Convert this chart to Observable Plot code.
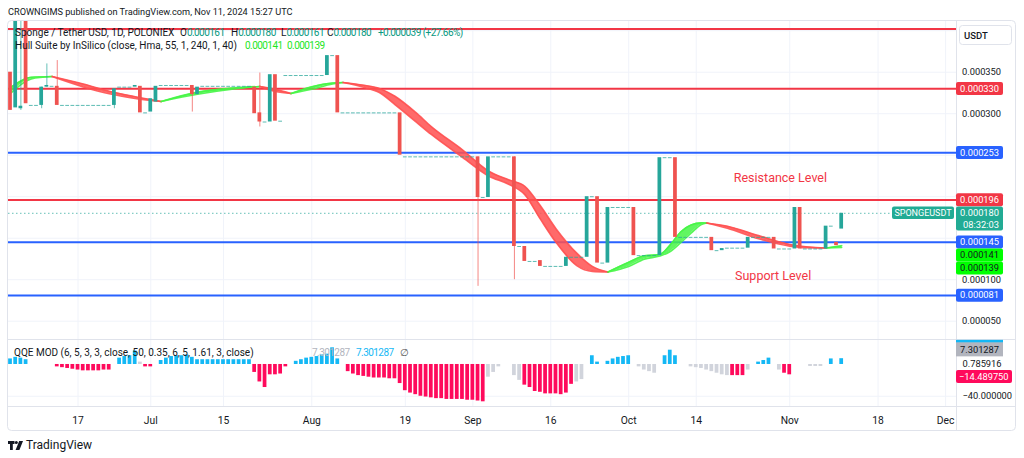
<!DOCTYPE html>
<html>
<head>
<meta charset="utf-8">
<script src="https://cdn.jsdelivr.net/npm/d3@7"></script>
<script src="https://cdn.jsdelivr.net/npm/@observablehq/plot@0.6"></script>
<style>
  html,body{margin:0;padding:0;background:#fff;}
  #wrap{position:relative;width:1024px;height:458px;overflow:hidden;font-family:Roboto,"Noto Sans",sans-serif;color:#131722;}
  #wrap > svg{position:absolute;left:0;}
  .t{position:absolute;white-space:nowrap;font-size:10px;line-height:12px;}
  .num{letter-spacing:-0.55px;}
</style>
</head>
<body>
<div id="wrap"></div>
<script>
// ================= DATA =================
const startDay = "2024-06-04";           // day index 0
// daily open / close (units of 1e-6 USDT), day 0 .. 160
const openE6 = [
 350,307,306,415,310,310,310,332,333,333,
 310,310,310,310,310,310,310,310,310,310,
 310,332,332,332,332,333,301,302,314,334,
 334,334,334,334,334,334,323,333,333,333,
 333,333,333,333,333,333,333,332,301,290,
 290,347,291,346,346,346,346,346,346,346,
 346,346,370,370,301,301,301,301,301,301,
 301,301,301,301,301,301,248,248,248,248,
 248,248,248,248,248,248,248,248,248,248,
 248,199,199,248,248,248,248,248,140,140,
 122,122,123,116,116,116,116,116,127,127,
 127,127,200,200,120,120,187,187,187,187,
 187,129,129,129,129,129,247,247,247,151,
 151,151,151,151,151,151,135,135,138,138,
 138,138,138,151,151,151,151,151,137,137,
 137,137,187,137,137,137,137,137,164.5,145,
 161];
const closeE6 = [
 304,415,309,312,310,310,332,334,333,310,
 310,310,310,310,310,310,310,310,310,310,
 330,332,332,332,334,301,301,318,333,334,
 334,334,334,334,334,323,332,333,333,333,
 333,333,333,333,333,333,333,300,290,290,
 347,291,291,346,346,346,346,346,346,346,
 346,370,370,301,301,301,301,301,301,301,
 301,301,301,301,301,250,248,248,248,248,
 248,248,248,248,248,248,248,248,248,248,
 199,199,248,248,248,248,248,140,140,122,
 122,122,116,116,116,116,116,127,127,127,
 127,200,200,120,120,187,187,187,187,187,
 129,129,129,129,129,247,247,247,151,151,
 151,151,151,151,151,135,135,137.5,138,138,
 138,138,151,151,151,151,151,137,137,137,
 137,187,137,137,137,137,137,164.5,164.5,141,
 180];
// candles with visible wicks
const wickDay    = [2,   6,   7,   9,   20,  35,  48,  90,  97];
const wickHighE6 = [415, 332, 360, 364, 330, 334, 349, 248, 248];
const wickLowE6  = [304, 306, 332, 310, 306, 302, 284, 92,  100];

// Hull Suite (MHULL / SHULL) sampled by day
const hullDay = [0,4,8,14,19,24,29,36,43,48,51,54,58,62,64,68,71,74,78,81,87,92,96,99,102,105,109,112,115,119,122,125,127,129,131,133,134,138,144,150,155,157,160];
const hullM   = [331.5,344,344.8,332.3,324,318.5,314.7,326,331,332.8,326.7,324.3,332.6,337,337.6,331.8,325.5,311,290.5,275,247.5,225,214.5,202.5,173,145,117,110,109.3,121,128.8,130.5,142,157.5,166,168.5,168.4,162,149.3,140.5,138.2,138.2,141];
const hullS   = [324.5,342,344.8,335.7,327,320.5,314.7,323.4,329.8,332.8,329.3,324.3,329.4,335.8,337.6,334.2,330.5,321,301.5,284.5,256.5,231,220,212.5,189,161.5,132,116,109.3,116,124.8,128.5,134,144.5,156,166.5,168.4,164.4,153.1,142.5,138.8,138.2,139];

// QQE MOD histogram per day (0..160) and colour class (c cyan, m magenta, g gray, . none)
const qqeValue = [
 7,9,8,6,0,0,0,0,0,-3,
 -4,-5,-6,-7,-8,-8,-8,-8,-7,-7,
 0,8,10,11,17,3,-3,-3,0,5,
 8,10,11,11,12,9,6,6,6,6,
 6,6,6,6,6,6,6,-10,-22,-29,
 -13,-13,-12,-3,0,4,6,8,9,10,
 12,13,21,7,0,-9,-12,-14,-15,-16,
 -17,-17,-17,-18,-18,-24,-33,-36,-38,-40,
 -41,-42,-43,-43,-44,-44,-44,-44,-45,-45,
 -46,-47,-16,-10,-3,0,0,-14,-20,-26,
 -29,-34,-35,-37,-37,-37,-38,-36,-25,-22,
 -19,0,11,3,0,4,7,9,10,11,
 0,-3,-7,-9,-11,0,11,18,11,0,
 0,-3,-4,-5,-7,-9,-11,-13,-14,-14,
 -14,-14,-7,0,3,5,8,0,-7,-11,
 -13,0,0,0,-2.5,-2.5,-2.5,0,7,0,
 7.301287];
const qqeClass = (
 "cccc.....m" + "mmmmmmmmmm" + ".ccccgmm.c" + "cccccccccc" + "cccccccmmm" +
 "mmmm.ccccc" + "cccc.mmmmm" + "mmmmmmmmmm" + "mmmmmmmmmm" + "mmggg..ggm" +
 "mmmmmmmmmg" + "g.cc.ccccc" + ".gggg.ccc." + ".ggggggggm" + "mmg.ccc.gm" +
 "m...ggg.c." + "c").split("");

// horizontal levels
const levelValues = [0.000402, 0.000330, 0.000253, 0.000196, 0.000145, 0.000081];
const levelKinds  = ["r", "r", "b", "r", "b", "b"];
const lastPrice = 0.000180;

// axes
const tickDates  = ["2024-06-17","2024-07-01","2024-07-15","2024-08-01","2024-08-19","2024-09-01","2024-09-16","2024-10-01","2024-10-14","2024-11-01","2024-11-18","2024-12-01"];
const tickLabels = ["17","Jul","15","Aug","19","Sep","16","Oct","14","Nov","18","Dec"];
const priceTicks = [0.00005,0.0001,0.00015,0.0002,0.00025,0.0003,0.00035,0.0004];

// annotations
const noteText  = ["Resistance Level", "Support Level"];
const noteDay   = [148.2, 146.8];
const notePrice = [0.000222, 0.000105];

// QQE right-axis values
const qqeHist = 7.301287, qqeLine = 0.785916, qqeLow = -14.489750, qqeAxis = -40;

// ================= BUILD =================
const FONT = 'Roboto, "Noto Sans", sans-serif';
const DAY = 864e5;
const T0 = new Date(startDay + "T00:00:00Z").getTime();
const dateOf = d => new Date(T0 + d * DAY);
const E6 = 1e-6;
const UP = "#26a69a", DOWN = "#ef5350";
const RED = "#f23645", BLUE = "#2962ff";
const HULL_UP = "#45f545", HULL_DN = "#ff5050";
const QCOL = {c: "#14b8f5", m: "#ff0a5c", g: "#d1d4dc"};
const HALF = 0.36;
const W = 1024, PLOT_RIGHT = 956, ML = 8, MR = W - PLOT_RIGHT;
const xDomain = [dateOf(-0.385), dateOf(182.1)];

const bodies = [], flats = [];
openE6.forEach((o, i) => {
  const c = closeE6[i];
  const r = {x1: dateOf(i - HALF), x2: dateOf(i + HALF)};
  if (o === c) flats.push({...r, y: o * E6});
  else bodies.push({...r, y1: Math.min(o, c) * E6, y2: Math.max(o, c) * E6, color: c > o ? UP : DOWN});
});
const wicks = wickDay.map((d, i) => ({x: dateOf(d), y1: wickLowE6[i] * E6, y2: wickHighE6[i] * E6,
  color: closeE6[d] >= openE6[d] ? UP : DOWN}));

// hull segments split at turning points
const segs = [];
let cur = null;
hullDay.forEach((d, i) => {
  const diff = hullM[i] - hullS[i];
  const col = diff > 0 ? HULL_UP : diff < 0 ? HULL_DN : null;
  const pt = {date: dateOf(d), m: hullM[i] * E6, s: hullS[i] * E6};
  if (!cur) { cur = {pts: [pt], col}; segs.push(cur); }
  else { cur.pts.push(pt); if (col && !cur.col) cur.col = col; }
  if (col === null && i > 0) { cur = {pts: [pt], col: null}; segs.push(cur); }
});
const hullRows = [];
segs.forEach((s, k) => { if (s.pts.length > 1) s.pts.forEach(p => hullRows.push({...p, seg: k, color: s.col || HULL_UP})); });

const levels = levelValues.map((v, i) => ({v, color: levelKinds[i] === "r" ? RED : BLUE}));
const ticks = tickDates.map((d, i) => ({date: new Date(d + "T00:00:00Z"), label: tickLabels[i]}));
const notes = noteText.map((t, i) => ({t, date: dateOf(noteDay[i]), p: notePrice[i]}));
const qqeRows = [];
qqeValue.forEach((v, i) => { if (qqeClass[i] !== "." && v !== 0) qqeRows.push({x1: dateOf(i - HALF), x2: dateOf(i + HALF), v, color: QCOL[qqeClass[i]]}); });

const wrap = document.getElementById("wrap");

const main = Plot.plot({
  width: W, height: 339, marginLeft: ML, marginRight: MR, marginTop: 21, marginBottom: 0,
  x: {type: "utc", domain: xDomain, axis: null},
  y: {domain: [27.95e-6, 411.1e-6], axis: null},
  color: {type: "identity"},
  style: {background: "transparent", fontFamily: FONT, overflow: "visible"},
  marks: [
    Plot.ruleX(ticks, {x: "date", stroke: "#f0f3fa"}),
    Plot.ruleY(priceTicks, {y: d => d, stroke: "#f0f3fa"}),
    Plot.ruleY(levels, {y: "v", stroke: "color", strokeWidth: 2}),
    Plot.ruleY([lastPrice], {stroke: UP, strokeWidth: 1, strokeDasharray: "1.5,2.5", strokeOpacity: 0.7}),
    Plot.area(hullRows, {x1: "date", y1: "m", y2: "s", z: "seg", fill: "color", fillOpacity: 0.85, curve: "monotone-x", clip: true}),
    Plot.line(hullRows, {x: "date", y: "m", z: "seg", stroke: "color", strokeWidth: 1.6, strokeOpacity: 0.9, curve: "monotone-x", clip: true}),
    Plot.line(hullRows, {x: "date", y: "s", z: "seg", stroke: "color", strokeWidth: 1.6, strokeOpacity: 0.9, curve: "monotone-x", clip: true}),
    Plot.ruleY(flats, {y: "y", x1: "x1", x2: "x2", stroke: UP, strokeOpacity: 0.75}),
    Plot.ruleX(wicks, {x: "x", y1: "y1", y2: "y2", stroke: "color", strokeOpacity: 0.7, clip: true}),
    Plot.rect(bodies, {x1: "x1", x2: "x2", y1: "y1", y2: "y2", fill: "color", clip: true}),
    Plot.text(notes, {x: "date", y: "p", text: "t", fill: RED, fontSize: 12.5})
  ]
});
main.style.top = "0px";
wrap.appendChild(main);

const qqe = Plot.plot({
  width: W, height: 93, marginLeft: ML, marginRight: MR, marginTop: 1, marginBottom: 26,
  x: {type: "utc", domain: xDomain, axis: null},
  y: {domain: [-52.9, 30.2], axis: null},
  color: {type: "identity"},
  style: {background: "transparent", fontFamily: FONT, overflow: "visible"},
  marks: [
    Plot.ruleX(ticks, {x: "date", stroke: "#f0f3fa"}),
    Plot.ruleY([qqeAxis], {stroke: "#f0f3fa"}),
    Plot.rect(qqeRows, {x1: "x1", x2: "x2", y1: 0, y2: "v", fill: "color"}),
    Plot.text([qqeLine, qqeAxis], {y: d => d, text: d => (d < 0 ? "\u2212" + (-d).toFixed(6) : d.toFixed(6)), frameAnchor: "right", textAnchor: "start", dx: 6, fontSize: 9.3, fill: "#131722"}),
    Plot.text(ticks, {x: "date", text: "label", frameAnchor: "bottom", dy: 17, fontSize: 10.3, fill: "#131722"})
  ]
});
qqe.style.top = "339px";
wrap.appendChild(qqe);

// ---------- overlay: frame, price axis, tags ----------
const yM = v => main.scale("y").apply(v);
const yQ = v => qqe.scale("y").apply(v) + 339;
const ov = d3.create("svg").attr("width", W).attr("height", 458).style("top", "0px")
  .style("font-family", FONT).style("pointer-events", "none");
const G = "#e0e3eb";
ov.append("rect").attr("x", 7.5).attr("y", 20.5).attr("width", 1008).attr("height", 410).attr("rx", 4)
  .attr("fill", "none").attr("stroke", G);
ov.append("line").attr("x1", PLOT_RIGHT + 0.5).attr("x2", PLOT_RIGHT + 0.5).attr("y1", 20.5).attr("y2", 430.5).attr("stroke", G);
[339.5, 406.5].forEach(y => ov.append("line").attr("x1", 8).attr("x2", 1015).attr("y1", y).attr("y2", y).attr("stroke", G));

const fmt = v => v.toFixed(6);
const tags = [
  {v: levelValues[1], fill: RED}, {v: levelValues[2], fill: BLUE}, {v: levelValues[3], fill: RED},
  {v: lastPrice, fill: "#22ab94", sub: "08:32:03"},
  {v: levelValues[4], fill: BLUE},
  {v: hullM[hullM.length - 1] * E6, fill: "#00ff00", ink: "#131722"},
  {v: hullS[hullS.length - 1] * E6, fill: "#00ff00", ink: "#131722"},
  {v: levelValues[5], fill: BLUE}
].map(t => ({...t, y: yM(t.v)})).sort((a, b) => a.y - b.y);
let prevBottom = -1e9;
tags.forEach(t => {
  t.h = t.sub ? 24 : 13;
  t.top = Math.max(t.y - 6.3, prevBottom);
  prevBottom = t.top + t.h;
});
const boxes = tags.map(t => [t.top, t.top + t.h]).concat([[25, 45]]);
// price axis labels (the ones hidden under tags are not shown)
priceTicks.forEach(v => {
  const y = yM(v);
  if (boxes.some(([a, b]) => y + 4 > a && y - 4 < b)) return;
  ov.append("text").attr("x", 962).attr("y", y + 3.3).attr("font-size", 9.3).attr("fill", "#131722").text(fmt(v));
});
// USDT box
ov.append("rect").attr("x", 959.5).attr("y", 25.5).attr("width", 52).attr("height", 19).attr("rx", 3).attr("fill", "#fff").attr("stroke", G);
ov.append("text").attr("x", 964).attr("y", 38.5).attr("font-size", 9.5).attr("font-weight", 500).attr("fill", "#131722").text("USDT");
tags.forEach(t => {
  ov.append("rect").attr("x", PLOT_RIGHT).attr("y", t.top).attr("width", 47).attr("height", t.h).attr("rx", 2).attr("fill", t.fill);
  ov.append("text").attr("x", 960).attr("y", t.top + 9.7).attr("font-size", 9.3).attr("fill", t.ink || "#fff").text(fmt(t.v));
  if (t.sub) ov.append("text").attr("x", 963).attr("y", t.top + 21).attr("font-size", 9.3).attr("fill", "#fff").text(t.sub);
});
// symbol tag
const yl = yM(lastPrice);
ov.append("rect").attr("x", 892).attr("y", yl - 6.2).attr("width", 62).attr("height", 12.5).attr("rx", 2).attr("fill", "#22ab94");
ov.append("text").attr("x", 923).attr("y", yl + 3.3).attr("text-anchor", "middle").attr("font-size", 9).attr("fill", "#fff").text("SPONGEUSDT");
// QQE tags
const gBottom = yQ(qqeLine) - 7, gTop = gBottom - 14;
ov.append("rect").attr("x", PLOT_RIGHT).attr("y", gTop - 2.5).attr("width", 47).attr("height", 3).attr("fill", QCOL.c);
ov.append("rect").attr("x", PLOT_RIGHT).attr("y", gTop).attr("width", 47).attr("height", 14).attr("fill", "#b2b5be");
ov.append("text").attr("x", 960).attr("y", gTop + 10.3).attr("font-size", 9.3).attr("fill", "#131722").text(fmt(qqeHist));
const pY = yQ(qqeLow);
ov.append("rect").attr("x", PLOT_RIGHT).attr("y", pY - 5.5).attr("width", 56).attr("height", 13).attr("rx", 2).attr("fill", QCOL.m);
ov.append("text").attr("x", 959).attr("y", pY + 4.3).attr("font-size", 9.3).attr("fill", "#fff").text("\u2212" + (-qqeLow).toFixed(6));
wrap.appendChild(ov.node());

// ---------- text legends ----------
function txt(x, y, s, color, extra, cls) {
  const d = document.createElement("div");
  d.className = "t" + (cls ? " " + cls : ""); d.style.left = x + "px"; d.style.top = y + "px";
  d.style.color = color || "#131722"; d.textContent = s;
  if (extra) Object.assign(d.style, extra);
  wrap.appendChild(d); return d;
}
const TEAL = "#089981", LIME = "#1ee61e";
txt(8, 6, "CROWNGIMS published on TradingView.com, Nov 11, 2024 15:27 UTC", "#131722", {fontSize: "9.2px"});
txt(15, 27, "Sponge / Tether USD, 1D, POLONIEX");
[["O", 180, "0.000161"], ["H", 231, "0.000180"], ["L", 281, "0.000161"], ["C", 327, "0.000180"]].forEach(([k, x, v]) => {
  const d = txt(x, 27, k);
  const s = document.createElement("span"); s.className = "num"; s.style.color = TEAL; s.textContent = v; d.appendChild(s);
});
txt(378, 27, "+0.000039 (+27.66%)", TEAL, null, "num");
txt(15, 40, "Hull Suite by InSilico (close, Hma, 55, 1, 240, 1, 40)");
txt(245, 40, fmt(hullM[hullM.length - 1] * E6), LIME, null, "num");
txt(287, 40, fmt(hullS[hullS.length - 1] * E6), LIME, null, "num");
txt(14, 347, "QQE MOD (6, 5, 3, 3, close, 50, 0.35, 6, 5, 1.61, 3, close)");
txt(312, 347, qqeHist.toFixed(6), "#b2b5be", null, "num");
txt(356, 347, qqeHist.toFixed(6), QCOL.c, null, "num");
txt(400, 347, "\u2205", "#555");

// footer logo
const foot = document.createElement("div");
foot.className = "t"; foot.style.left = "8px"; foot.style.top = "438px"; foot.style.fontSize = "12px"; foot.style.lineHeight = "14px";
foot.innerHTML = '<svg width="15" height="9" viewBox="0 0 15 9" style="vertical-align:-1px;margin-right:3px"><path d="M0 0h6.5v3H4.8v6H2V3H0z" fill="#131722"/><circle cx="8.3" cy="1.5" r="1.5" fill="#131722"/><path d="M11.2 0H15l-3.6 9H7.6z" fill="#131722"/></svg>TradingView';
wrap.appendChild(foot);
</script>
</body>
</html>
